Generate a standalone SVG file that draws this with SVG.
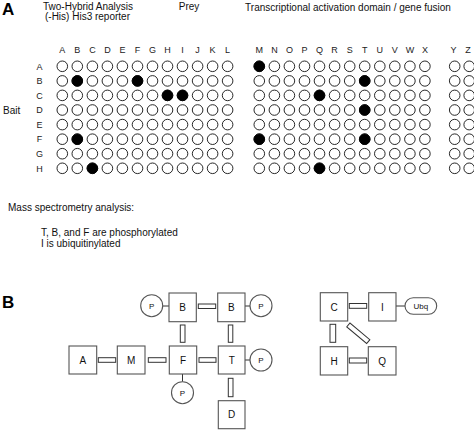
<svg xmlns="http://www.w3.org/2000/svg" xmlns:xlink="http://www.w3.org/1999/xlink" width="474" height="430" viewBox="0 0 474 430">
<style>
text{font-family:"Liberation Sans",Arial,sans-serif;fill:#111}
.hd{font-size:10px}
.lt{font-size:9px;text-anchor:middle;fill:#222}
.pl{font-size:17px;font-weight:bold;fill:#000}
.c{fill:#fff;stroke:#111;stroke-width:0.9}
.f{fill:#000;stroke:#000;stroke-width:0.9}
.box{fill:#fff;stroke:#555;stroke-width:1.1}
.lb{font-size:10px;text-anchor:middle}
.sm{font-size:8px;text-anchor:middle}
.lk{fill:#fff;stroke:#333;stroke-width:1}
.ln{stroke:#333;stroke-width:1}
</style>
<defs>
<g id="row">
<circle class="c" cx="62.3" cy="0" r="5.3"/><circle class="c" cx="77.3" cy="0" r="5.3"/><circle class="c" cx="92.4" cy="0" r="5.3"/><circle class="c" cx="107.4" cy="0" r="5.3"/><circle class="c" cx="122.4" cy="0" r="5.3"/><circle class="c" cx="137.5" cy="0" r="5.3"/><circle class="c" cx="152.5" cy="0" r="5.3"/><circle class="c" cx="167.5" cy="0" r="5.3"/><circle class="c" cx="182.5" cy="0" r="5.3"/><circle class="c" cx="197.6" cy="0" r="5.3"/><circle class="c" cx="212.6" cy="0" r="5.3"/><circle class="c" cx="227.6" cy="0" r="5.3"/>
<circle class="c" cx="259.3" cy="0" r="5.3"/><circle class="c" cx="274.4" cy="0" r="5.3"/><circle class="c" cx="289.4" cy="0" r="5.3"/><circle class="c" cx="304.5" cy="0" r="5.3"/><circle class="c" cx="319.5" cy="0" r="5.3"/><circle class="c" cx="334.6" cy="0" r="5.3"/><circle class="c" cx="349.7" cy="0" r="5.3"/><circle class="c" cx="364.7" cy="0" r="5.3"/><circle class="c" cx="379.8" cy="0" r="5.3"/><circle class="c" cx="394.8" cy="0" r="5.3"/><circle class="c" cx="409.9" cy="0" r="5.3"/><circle class="c" cx="424.9" cy="0" r="5.3"/>
<circle class="c" cx="454.7" cy="0" r="5.3"/><circle class="c" cx="469.2" cy="0" r="5.3"/>
</g>
</defs>

<text class="pl" x="2" y="15">A</text>
<text class="hd" x="88" y="9.5" text-anchor="middle">Two-Hybrid Analysis</text>
<text class="hd" x="87.5" y="20" text-anchor="middle">(-His) His3 reporter</text>
<text class="hd" x="189" y="10" text-anchor="middle">Prey</text>
<text class="hd" x="348" y="10.5" text-anchor="middle">Transcriptional activation domain / gene fusion</text>

<g id="col-letters">
<text class="lt" x="62.3" y="52.5">A</text><text class="lt" x="77.3" y="52.5">B</text><text class="lt" x="92.4" y="52.5">C</text><text class="lt" x="107.4" y="52.5">D</text><text class="lt" x="122.4" y="52.5">E</text><text class="lt" x="137.5" y="52.5">F</text><text class="lt" x="152.5" y="52.5">G</text><text class="lt" x="167.5" y="52.5">H</text><text class="lt" x="182.5" y="52.5">I</text><text class="lt" x="197.6" y="52.5">J</text><text class="lt" x="212.6" y="52.5">K</text><text class="lt" x="227.6" y="52.5">L</text>
<text class="lt" x="259.3" y="52.5">M</text><text class="lt" x="274.4" y="52.5">N</text><text class="lt" x="289.4" y="52.5">O</text><text class="lt" x="304.5" y="52.5">P</text><text class="lt" x="319.5" y="52.5">Q</text><text class="lt" x="334.6" y="52.5">R</text><text class="lt" x="349.7" y="52.5">S</text><text class="lt" x="364.7" y="52.5">T</text><text class="lt" x="379.8" y="52.5">U</text><text class="lt" x="394.8" y="52.5">V</text><text class="lt" x="409.9" y="52.5">W</text><text class="lt" x="424.9" y="52.5">X</text>
<text class="lt" x="453.5" y="52.5">Y</text><text class="lt" x="468" y="52.5">Z</text>
</g>
<g id="row-letters">
<text class="lt" x="39.5" y="69.5">A</text><text class="lt" x="39.5" y="84.1">B</text><text class="lt" x="39.5" y="98.6">C</text><text class="lt" x="39.5" y="113.2">D</text><text class="lt" x="39.5" y="127.8">E</text><text class="lt" x="39.5" y="142.4">F</text><text class="lt" x="39.5" y="156.9">G</text><text class="lt" x="39.5" y="171.5">H</text>
</g>
<text class="hd" x="3" y="113.5">Bait</text>

<g id="grid">
<use xlink:href="#row" href="#row" y="66.3"/>
<use xlink:href="#row" href="#row" y="80.9"/>
<use xlink:href="#row" href="#row" y="95.4"/>
<use xlink:href="#row" href="#row" y="110"/>
<use xlink:href="#row" href="#row" y="124.6"/>
<use xlink:href="#row" href="#row" y="139.2"/>
<use xlink:href="#row" href="#row" y="153.7"/>
<use xlink:href="#row" href="#row" y="168.3"/>
<circle class="f" cx="259.3" cy="66.3" r="5.3"/>
<circle class="f" cx="77.3" cy="80.9" r="5.3"/><circle class="f" cx="137.5" cy="80.9" r="5.3"/><circle class="f" cx="364.7" cy="80.9" r="5.3"/>
<circle class="f" cx="167.5" cy="95.4" r="5.3"/><circle class="f" cx="182.5" cy="95.4" r="5.3"/><circle class="f" cx="319.5" cy="95.4" r="5.3"/>
<circle class="f" cx="364.7" cy="110" r="5.3"/>
<circle class="f" cx="77.3" cy="139.2" r="5.3"/><circle class="f" cx="259.3" cy="139.2" r="5.3"/><circle class="f" cx="364.7" cy="139.2" r="5.3"/>
<circle class="f" cx="92.4" cy="168.3" r="5.3"/><circle class="f" cx="319.5" cy="168.3" r="5.3"/>
</g>

<text class="hd" x="8" y="211">Mass spectrometry analysis:</text>
<text class="hd" x="41" y="235.7">T, B, and F are phosphorylated</text>
<text class="hd" x="41" y="246.7">I is ubiquitinylated</text>

<text class="pl" x="2" y="308">B</text>

<g id="connectors">
<rect class="lk" x="198.3" y="304" width="17.4" height="4.5"/>
<rect class="lk" x="98.3" y="357.7" width="17.4" height="4.6"/>
<rect class="lk" x="148.3" y="357.7" width="17.7" height="4.6"/>
<rect class="lk" x="199" y="357.7" width="17" height="4.6"/>
<rect class="lk" x="180.3" y="325" width="4.7" height="17.3"/>
<rect class="lk" x="228.3" y="325" width="4.5" height="17.3"/>
<rect class="lk" x="228.3" y="378.3" width="4.7" height="18.4"/>
<rect class="lk" x="349.3" y="303.5" width="17.4" height="4.8"/>
<rect class="lk" x="349.3" y="358" width="17.4" height="5"/>
<rect class="lk" x="330" y="324.3" width="5.7" height="18"/>
<rect class="lk" x="345.3" y="330.8" width="26" height="5" transform="rotate(40 358.3 333.3)"/>
<line class="ln" x1="162.7" y1="306" x2="169" y2="306"/>
<line class="ln" x1="245" y1="306" x2="250" y2="306"/>
<line class="ln" x1="245" y1="360" x2="250" y2="360"/>
<line class="ln" x1="182.5" y1="374" x2="182.5" y2="381.7"/>
<line class="ln" x1="396" y1="306" x2="405" y2="306"/>
</g>

<g id="node-P1"><circle class="box" cx="151.7" cy="305.7" r="11"/><text class="sm" x="151.7" y="308.7">P</text></g>
<g id="node-B1"><rect class="box" x="169" y="293" width="27.3" height="28.7"/><text class="lb" x="182.6" y="311">B</text></g>
<g id="node-B2"><rect class="box" x="217.7" y="293" width="27.3" height="28.7"/><text class="lb" x="231.3" y="311">B</text></g>
<g id="node-P2"><circle class="box" cx="261" cy="305.7" r="11"/><text class="sm" x="261" y="308.7">P</text></g>
<g id="node-A"><rect class="box" x="69" y="346" width="27.7" height="28"/><text class="lb" x="82.8" y="363.6">A</text></g>
<g id="node-M"><rect class="box" x="117.3" y="346" width="27.7" height="28"/><text class="lb" x="131.2" y="363.6">M</text></g>
<g id="node-F"><rect class="box" x="169.3" y="346" width="27.4" height="28"/><text class="lb" x="183" y="363.6">F</text></g>
<g id="node-T"><rect class="box" x="218.3" y="346" width="26.7" height="28"/><text class="lb" x="231.7" y="363.6">T</text></g>
<g id="node-P3"><circle class="box" cx="261" cy="360" r="11"/><text class="sm" x="261" y="363">P</text></g>
<g id="node-P4"><circle class="box" cx="182.5" cy="392.7" r="11"/><text class="sm" x="182.5" y="395.7">P</text></g>
<g id="node-D"><rect class="box" x="218.3" y="400.7" width="26.7" height="28"/><text class="lb" x="231.7" y="418.3">D</text></g>
<g id="node-C"><rect class="box" x="320.3" y="292.7" width="27.4" height="28.3"/><text class="lb" x="334" y="310.5">C</text></g>
<g id="node-I"><rect class="box" x="368.7" y="292.7" width="27.3" height="28.3"/><text class="lb" x="382.3" y="310.5">I</text></g>
<g id="node-Ubq"><rect class="box" x="405" y="297.7" width="31.7" height="16.6" rx="8.3"/><text class="sm" x="420.8" y="308.8">Ubq</text></g>
<g id="node-H"><rect class="box" x="320.3" y="346.7" width="27.4" height="28.3"/><text class="lb" x="334" y="364.5">H</text></g>
<g id="node-Q"><rect class="box" x="368.3" y="346.7" width="27.7" height="28.3"/><text class="lb" x="382.2" y="364.5">Q</text></g>
</svg>
